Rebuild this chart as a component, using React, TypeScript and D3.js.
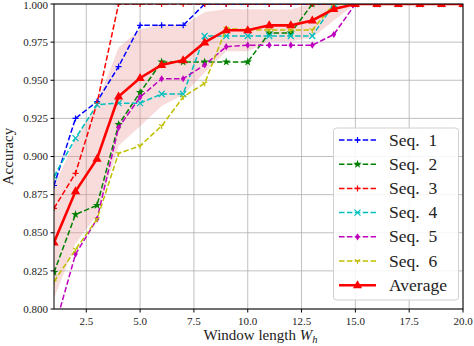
import React from 'react';
import * as d3 from 'd3';

// window lengths W_h
const windowLengths = [1, 2, 3, 4, 5, 6, 7, 8, 9, 10, 11, 12, 13, 14, 15, 16, 17, 18, 19, 20];

const seq1 = [0.881, 0.925, 0.936, 0.959, 0.986, 0.986, 0.986, 1, 1, 1, 1, 1, 1, 1, 1, 1, 1, 1, 1, 1];
const seq2 = [0.824, 0.862, 0.868, 0.921, 0.942, 0.962, 0.962, 0.962, 0.962, 0.962, 0.981, 0.981, 1, 1, 1, 1, 1, 1, 1, 1];
const seq3 = [0.866, 0.889, 0.935, 1, 1, 1, 1, 1, 1, 1, 1, 1, 1, 1, 1, 1, 1, 1, 1, 1];
const seq4 = [0.887, 0.912, 0.934, 0.935, 0.935, 0.941, 0.941, 0.979, 0.979, 0.979, 0.979, 0.979, 0.979, 1, 1, 1, 1, 1, 1, 1];
const seq5 = [0.786, 0.836, 0.859, 0.919, 0.939, 0.951, 0.951, 0.960, 0.972, 0.973, 0.973, 0.973, 0.973, 0.980, 1, 1, 1, 1, 1, 1];
const seq6 = [0.818, 0.839, 0.859, 0.902, 0.907, 0.920, 0.939, 0.948, 0.984, 0.983, 0.983, 0.983, 0.983, 1, 1, 1, 1, 1, 1, 1];

const seqNames = ['Seq. 1', 'Seq. 2', 'Seq. 3', 'Seq. 4', 'Seq. 5', 'Seq. 6'];
const xTicks = [2.5, 5, 7.5, 10, 12.5, 15, 17.5, 20];
const yTicks = [0.8, 0.825, 0.85, 0.875, 0.9, 0.925, 0.95, 0.975, 1.0];

const series = [
  { name: seqNames[0], values: seq1, color: '#0000ff', marker: 'plus' },
  { name: seqNames[1], values: seq2, color: '#008000', marker: 'star' },
  { name: seqNames[2], values: seq3, color: '#ff0000', marker: 'plus' },
  { name: seqNames[3], values: seq4, color: '#00bfbf', marker: 'x' },
  { name: seqNames[4], values: seq5, color: '#bf00bf', marker: 'diamond' },
  { name: seqNames[5], values: seq6, color: '#bfbf00', marker: 'tri' },
];

const W = 474;
const H = 346;
const left = 54, right = 463, top = 4, bottom = 309;
const font = "'Liberation Serif', 'DejaVu Serif', serif";

const Marker = ({ type, x, y, color }: { type: string; x: number; y: number; color: string }) => {
  const s = 3;
  if (type === 'plus')
    return <path d={`M${x - s},${y}H${x + s}M${x},${y - s}V${y + s}`} stroke={color} strokeWidth={1.2} />;
  if (type === 'x')
    return <path d={`M${x - s},${y - s}L${x + s},${y + s}M${x - s},${y + s}L${x + s},${y - s}`} stroke={color} strokeWidth={1.2} />;
  if (type === 'tri')
    return (
      <path
        d={`M${x},${y}V${y + s}M${x},${y}L${x - s * 0.87},${y - s * 0.5}M${x},${y}L${x + s * 0.87},${y - s * 0.5}`}
        stroke={color}
        strokeWidth={1.2}
      />
    );
  if (type === 'diamond')
    return <path d={`M${x},${y - 3.6}L${x + 2.3},${y}L${x},${y + 3.6}L${x - 2.3},${y}Z`} fill={color} />;
  if (type === 'star')
    return <path d={d3.symbol(d3.symbolStar, 22)() as string} transform={`translate(${x},${y})`} fill={color} />;
  // triangle up
  return <path d={`M${x},${y - 5}L${x + 4.6},${y + 3}L${x - 4.6},${y + 3}Z`} fill={color} />;
};

const App = () => {
  const x = d3.scaleLinear().domain([1, 20]).range([left, right]);
  const y = d3.scaleLinear().domain([0.8, 1]).range([bottom, top]);

  const all = [seq1, seq2, seq3, seq4, seq5, seq6];
  const avg = windowLengths.map((_, i) => d3.mean(all, (s) => s[i]) as number);
  const std = windowLengths.map((_, i) => {
    const m = avg[i];
    return Math.sqrt(d3.mean(all, (s) => (s[i] - m) ** 2) as number);
  });

  const line = d3
    .line<number>()
    .x((_, i) => x(windowLengths[i]))
    .y((d) => y(d));

  const band = d3
    .area<number>()
    .x((_, i) => x(windowLengths[i]))
    .y0((d, i) => y(d - std[i]))
    .y1((d, i) => y(d + std[i]));

  const legendRows = [...series.map((s) => s.name), 'Average'];

  return (
    <svg width={W} height={H} style={{ position: 'absolute', left: 0, top: 0, background: '#fff' }}>
      <defs>
        <clipPath id="plot">
          <rect x={left} y={top} width={right - left} height={bottom - top} />
        </clipPath>
      </defs>

      {/* grid */}
      <g stroke="#b0b0b0" strokeWidth={0.8}>
        {xTicks.map((t) => (
          <line key={'gx' + t} x1={x(t)} x2={x(t)} y1={top} y2={bottom} />
        ))}
        {yTicks.map((t) => (
          <line key={'gy' + t} x1={left} x2={right} y1={y(t)} y2={y(t)} />
        ))}
      </g>

      <g clipPath="url(#plot)">
        <path d={band(avg) as string} fill="#e88a8a" fillOpacity={0.3} />
        {series.map((s) => (
          <g key={s.name}>
            <path d={line(s.values) as string} fill="none" stroke={s.color} strokeWidth={1.5} strokeDasharray="5.5,2.4" />
            {s.values.map((v, i) => (
              <Marker key={i} type={s.marker} x={x(windowLengths[i])} y={y(v)} color={s.color} />
            ))}
          </g>
        ))}
        <path d={line(avg) as string} fill="none" stroke="#ff0000" strokeWidth={2.6} />
        {avg.map((v, i) => (
          <Marker key={i} type="tri-up" x={x(windowLengths[i])} y={y(v)} color="#ff0000" />
        ))}
      </g>

      {/* frame */}
      <rect x={left} y={top} width={right - left} height={bottom - top} fill="none" stroke="#000" strokeWidth={1} />

      {/* ticks */}
      <g fontFamily={font} fontSize={11} fill="#222">
        {xTicks.map((t) => (
          <g key={'xt' + t}>
            <line x1={x(t)} x2={x(t)} y1={bottom} y2={bottom + 3.5} stroke="#000" />
            <text x={x(t)} y={324.5} textAnchor="middle">
              {t.toFixed(1)}
            </text>
          </g>
        ))}
        {yTicks.map((t) => (
          <g key={'yt' + t}>
            <line x1={left - 3.5} x2={left} y1={y(t)} y2={y(t)} stroke="#000" />
            <text x={left - 6} y={Math.max(y(t), 5.5)} dy="0.34em" textAnchor="end">
              {t.toFixed(3)}
            </text>
          </g>
        ))}
      </g>

      {/* axis labels */}
      <text x={(left + right) / 2 + 2} y={340} textAnchor="middle" fontFamily={font} fontSize={15} fill="#222">
        Window length <tspan fontStyle="italic">W</tspan>
        <tspan fontStyle="italic" fontSize={10.5} dy={2.5}>h</tspan>
      </text>
      <text transform={`translate(13,${(top + bottom) / 2}) rotate(-90)`} textAnchor="middle" fontFamily={font} fontSize={15} fill="#222">
        Accuracy
      </text>

      {/* legend */}
      <g>
        <rect x={333.5} y={128} width={125} height={172} rx={3} fill="#fff" fillOpacity={0.85} stroke="#d0d0d0" />
        {legendRows.map((name, i) => {
          const ry = 140 + i * 24.2;
          const s = series[i];
          return (
            <g key={name}>
              {s ? (
                <>
                  <line x1={339} x2={376} y1={ry} y2={ry} stroke={s.color} strokeWidth={1.5} strokeDasharray="5.5,2.4" />
                  <Marker type={s.marker} x={357.5} y={ry} color={s.color} />
                </>
              ) : (
                <>
                  <line x1={339} x2={376} y1={ry} y2={ry} stroke="#ff0000" strokeWidth={2.6} />
                  <Marker type="tri-up" x={357.5} y={ry} color="#ff0000" />
                </>
              )}
              <text x={389} y={ry + 5.5} fontFamily={font} fontSize={17.5} fill="#222" style={{ whiteSpace: 'pre' }}>
                {name.replace('. ', '.  ')}
              </text>
            </g>
          );
        })}
      </g>
    </svg>
  );
};

export default App;
